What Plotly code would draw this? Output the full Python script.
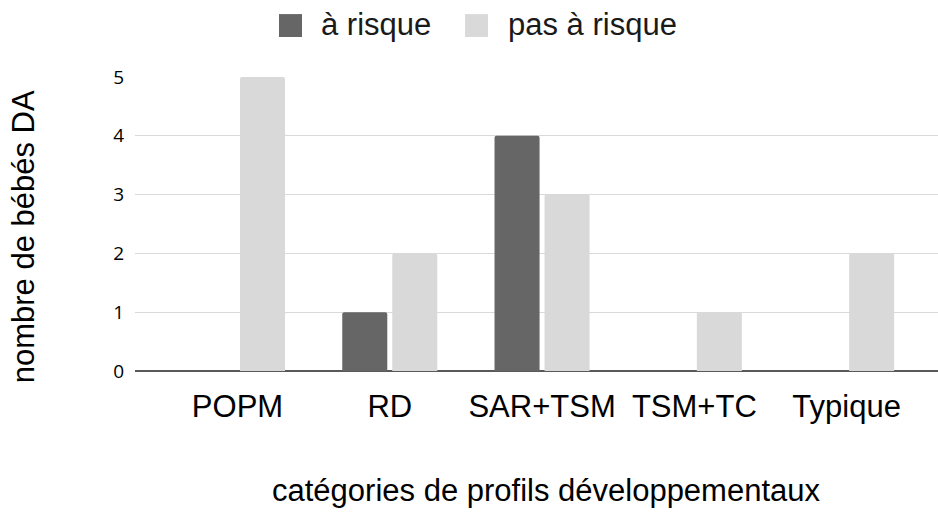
import plotly.graph_objects as go

categories = ["POPM", "RD", "SAR+TSM", "TSM+TC", "Typique"]
a_risque = [0, 1, 4, 0, 0]
pas_a_risque = [5, 2, 3, 1, 2]
y_ticks = [0, 1, 2, 3, 4, 5]
series_names = ["à risque", "pas à risque"]
series_colors = ["#666666", "#d9d9d9"]

FONT = "Liberation Sans, Arial, sans-serif"

fig = go.Figure()
for name, vals, col in zip(series_names, [a_risque, pas_a_risque], series_colors):
    fig.add_trace(go.Bar(name=name, x=categories, y=vals, showlegend=False,
                         marker=dict(color=col, cornerradius=2, line=dict(width=0))))

# custom legend (large squares like the reference)
legend_x = [(0.1793, 0.208, 0.2291), (0.411, 0.4396, 0.462)]
shapes = []
annotations = []
for (x0, x1, tx), name, col in zip(legend_x, series_names, series_colors):
    shapes.append(dict(type="rect", xref="paper", yref="paper", x0=x0, x1=x1,
                       y0=1.136, y1=1.214, fillcolor=col, line=dict(width=0)))
    annotations.append(dict(text=name, xref="paper", yref="paper", x=tx, y=1.177,
                            xanchor="left", yanchor="middle", showarrow=False,
                            font=dict(size=31, family=FONT, color="#1a1a1a")))

annotations.append(dict(text="nombre de bébés DA", xref="paper", yref="paper",
                        x=-0.1395, y=0.458, xanchor="center", yanchor="middle",
                        textangle=-90, showarrow=False, borderpad=0,
                        font=dict(size=31, family=FONT, color="#000000")))
annotations.append(dict(text="catégories de profils développementaux", xref="paper", yref="paper",
                        x=0.512, y=-0.405, xanchor="center", yanchor="middle",
                        showarrow=False, borderpad=0,
                        font=dict(size=31, family=FONT, color="#000000")))

fig.update_layout(
    width=938, height=512,
    margin=dict(l=135, r=0, t=77, b=141),
    paper_bgcolor="white", plot_bgcolor="white",
    barmode="group", bargap=0.343, bargroupgap=0.1,
    font=dict(family=FONT, color="#000000"),
    showlegend=False,
    shapes=shapes, annotations=annotations,
)
fig.update_xaxes(
    range=[-0.673, 4.6], automargin=False,
    tickfont=dict(size=31, family=FONT, color="#000000"),
    showgrid=False, showline=False, ticks="", ticklabelstandoff=14,
)
fig.update_yaxes(
    range=[0, 5], tickvals=y_ticks, automargin=False,
    tickfont=dict(size=19, family="Open Sans, sans-serif", color="#000000"),
    showgrid=True, gridcolor="#d9d9d9", gridwidth=1,
    zeroline=True, zerolinecolor="#595959", zerolinewidth=1.5,
    ticks="", ticklabelstandoff=10,
)

# remove the default 8px page margin so the figure fills the window exactly
fig.write_html("out.html", config={"displayModeBar": False},
               post_script="document.body.style.margin='0px';")
